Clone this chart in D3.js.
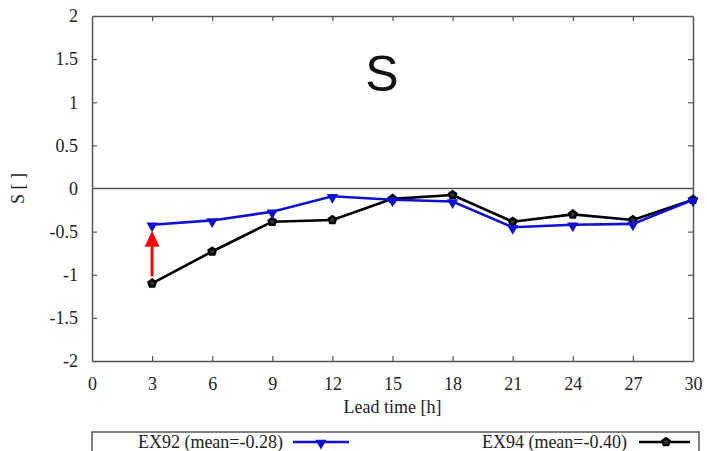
<!DOCTYPE html>
<html>
<head>
<meta charset="utf-8">
<script src="https://cdn.jsdelivr.net/npm/d3@7"></script>
<style>
  html, body { margin: 0; padding: 0; background: #fff; }
  svg { display: block; }
</style>
</head>
<body>
<svg id="chart" width="707" height="451"></svg>
<script>
// Lead times [h] and skill score S for the two experiments
const leadTimes = [3, 6, 9, 12, 15, 18, 21, 24, 27, 30];
const ex92 = [-0.42, -0.37, -0.27, -0.09, -0.13, -0.15, -0.45, -0.42, -0.41, -0.13];
const ex94 = [-1.10, -0.73, -0.385, -0.365, -0.12, -0.075, -0.385, -0.30, -0.365, -0.13];
const xTicks = [0, 3, 6, 9, 12, 15, 18, 21, 24, 27, 30];
const yTicks = [-2, -1.5, -1, -0.5, 0, 0.5, 1, 1.5, 2];
const seriesNames = ["EX92 (mean=-0.28)", "EX94 (mean=-0.40)"];

const svg = d3.select("#chart");
const m = { left: 92, right: 14, top: 16, bottom: 90 };
const W = 707, H = 451;
const x = d3.scaleLinear().domain([0, 30]).range([m.left, W - m.right]);
const y = d3.scaleLinear().domain([-2, 2]).range([H - m.bottom, m.top]);

const axisColor = "#555";
const serif = '"Liberation Serif", "Times New Roman", serif';
const fs = 18;
const fmt = d => String(d);

// Axes with inward ticks on all four sides
function styleAxis(g) {
  g.attr("font-family", null);
  g.select(".domain").attr("stroke", axisColor).attr("stroke-width", 1.5);
  g.selectAll(".tick line").attr("stroke", axisColor).attr("stroke-width", 1.2);
  g.selectAll(".tick text").attr("fill", "#222").attr("font-size", fs).style("font-family", serif);
}
svg.append("g").attr("transform", `translate(0,${y(-2)})`)
  .call(d3.axisBottom(x).tickValues(xTicks).tickFormat(fmt).tickSizeInner(-5).tickSizeOuter(0).tickPadding(16))
  .call(styleAxis);
svg.append("g").attr("transform", `translate(0,${y(2)})`)
  .call(d3.axisTop(x).tickValues(xTicks).tickSizeInner(-5).tickSizeOuter(0).tickFormat(""))
  .call(styleAxis);
svg.append("g").attr("transform", `translate(${x(0)},0)`)
  .call(d3.axisLeft(y).tickValues(yTicks).tickFormat(fmt).tickSizeInner(-5).tickSizeOuter(0).tickPadding(14))
  .call(styleAxis);
svg.append("g").attr("transform", `translate(${x(30)},0)`)
  .call(d3.axisRight(y).tickValues(yTicks).tickSizeInner(-5).tickSizeOuter(0).tickFormat(""))
  .call(styleAxis);

// Hide end ticks that would overlap the frame corners
svg.selectAll(".tick").filter(d => d === 0 || d === 30 || d === 2 || d === -2)
  .select("line").attr("opacity", 0);

// Zero reference line
svg.append("line")
  .attr("x1", x(0)).attr("x2", x(30)).attr("y1", y(0)).attr("y2", y(0))
  .attr("stroke", axisColor).attr("stroke-width", 1.5);

// Axis titles
svg.append("text").attr("x", (x(0) + x(30)) / 2).attr("y", 413)
  .attr("text-anchor", "middle").attr("font-size", fs).style("font-family", serif)
  .attr("fill", "#222").text("Lead time [h]");
svg.append("text").attr("transform", `translate(24,${y(0)}) rotate(-90)`)
  .attr("text-anchor", "middle").attr("font-size", fs).style("font-family", serif)
  .attr("fill", "#222").text("S [ ]");

// Panel title
svg.append("text").attr("x", 382).attr("y", 91)
  .attr("text-anchor", "middle").style("font-family", '"Liberation Sans", Arial, sans-serif')
  .attr("font-size", 50).attr("fill", "#111").text("S");

// Series
const line = d3.line().x((d, i) => x(leadTimes[i])).y(d => y(d));
const tri = d3.symbol().type(d3.symbolTriangle).size(55);
const pent = "M0,-3.8 L3.6,-1.2 L2.2,3.1 L-2.2,3.1 L-3.6,-1.2 Z";

svg.append("path").datum(ex94).attr("d", line)
  .attr("fill", "none").attr("stroke", "#000").attr("stroke-width", 2.6);
svg.selectAll(".p94").data(ex94).join("path").attr("class", "p94")
  .attr("transform", (d, i) => `translate(${x(leadTimes[i])},${y(d)})`)
  .attr("d", pent).attr("fill", "#333").attr("stroke", "#000").attr("stroke-width", 2.4);

svg.append("path").datum(ex92).attr("d", line)
  .attr("fill", "none").attr("stroke", "#1010d0").attr("stroke-width", 2.6);
svg.selectAll(".p92").data(ex92).join("path").attr("class", "p92")
  .attr("transform", (d, i) => `translate(${x(leadTimes[i])},${y(d) + 1}) rotate(180)`)
  .attr("d", tri).attr("fill", "#1010d0");

// Red arrow marking the improvement at the first lead time
const ax = x(leadTimes[0]);
const aTail = y(ex94[0]) - 7, aTip = y(ex92[0]) + 6;
svg.append("line").attr("x1", ax).attr("x2", ax).attr("y1", aTail).attr("y2", aTip + 14)
  .attr("stroke", "#f00").attr("stroke-width", 3);
svg.append("path")
  .attr("d", `M${ax},${aTip} L${ax - 7.5},${aTip + 16} L${ax + 7.5},${aTip + 16} Z`)
  .attr("fill", "#f00");

// Legend box (runs off the bottom edge)
svg.append("rect").attr("x", 92).attr("y", 432).attr("width", 607).attr("height", 40)
  .attr("fill", "#fff").attr("stroke", axisColor).attr("stroke-width", 1.5);
svg.append("text").attr("x", 283).attr("y", 448).attr("text-anchor", "end")
  .attr("font-size", fs).style("font-family", serif).attr("fill", "#222").text(seriesNames[0]);
svg.append("line").attr("x1", 293).attr("x2", 349).attr("y1", 442).attr("y2", 442)
  .attr("stroke", "#1010d0").attr("stroke-width", 2.6);
svg.append("path").attr("transform", "translate(321,443) rotate(180)").attr("d", tri).attr("fill", "#1010d0");
svg.append("text").attr("x", 627).attr("y", 448).attr("text-anchor", "end")
  .attr("font-size", fs).style("font-family", serif).attr("fill", "#222").text(seriesNames[1]);
svg.append("line").attr("x1", 639).attr("x2", 690).attr("y1", 442).attr("y2", 442)
  .attr("stroke", "#000").attr("stroke-width", 2.6);
svg.append("path").attr("transform", "translate(666,442)").attr("d", pent)
  .attr("fill", "#333").attr("stroke", "#000").attr("stroke-width", 2.4);
</script>
</body>
</html>
